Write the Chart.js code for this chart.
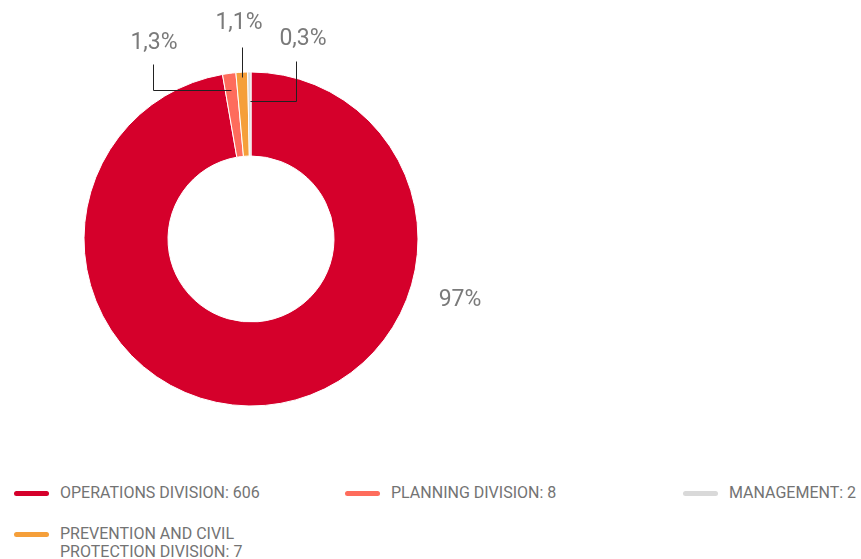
<!DOCTYPE html>
<html>
<head>
<meta charset="utf-8">
<script src="https://cdn.jsdelivr.net/npm/chart.js@4.4.1/dist/chart.umd.min.js"></script>
<style>
body{margin:0;background:#fff;width:861px;height:559px;overflow:hidden;font-family:Roboto,"Noto Sans",sans-serif}
#wrap{position:absolute;left:0;top:0;width:861px;height:480px}
#legend{position:absolute;left:0;top:484px;width:861px}
.item{position:absolute;display:flex;align-items:flex-start;color:#737373;font-size:16px;line-height:18px}
.sw{width:35px;height:5px;border-radius:3px;margin-top:7px;margin-right:11px;flex:none}
.txt{max-width:220px}
</style>
</head>
<body>
<div id="wrap"><canvas id="chart"></canvas></div>
<div id="legend"></div>
<script>

// data
let labels=["OPERATIONS DIVISION","PLANNING DIVISION","PREVENTION AND CIVIL PROTECTION DIVISION","MANAGEMENT"]
let values=[606,8,7,2]
let pctLabels=["97%","1,3%","1,1%","0,3%"]
let colors=["#d5002b","#fe6c5c","#f59f3a","#d9d9d9"]
let legendOrder=[0,1,3,2]

// legend layout (left, top)
let legendPos=[[14,0],[345,0],[683,0],[14,41]]

let html=""
legendOrder.forEach((idx,i)=>{
html+=`<div class="item" style="left:${legendPos[i][0]}px;top:${legendPos[i][1]}px">
<div class="sw" style="background:${colors[idx]}"></div>
<div class="txt">${labels[idx]}: ${values[idx]}</div>
</div>`
})
document.getElementById("legend").innerHTML=html

// label placement: r = anchor radius, path = leader points, text pos
let labelCfg=[
{fixed:[460,300]},
{r:150,path:[[153,null],[153,64]],text:[154,43]},
{r:162,path:[[null,47]],text:[239,23]},
{r:138,path:[[296,null],[296,61]],text:[303,39]}
]

const pctPlugin={
id:"pct",
afterDatasetsDraw(chart){
const ctx=chart.ctx
const meta=chart.getDatasetMeta(0)
ctx.save()
ctx.font="23px Roboto, 'Noto Sans', sans-serif"
ctx.fillStyle="#7a7a7a"
ctx.textAlign="center"
ctx.textBaseline="middle"
meta.data.forEach((arc,i)=>{
const c=labelCfg[i]
if(c.fixed){
ctx.fillText(pctLabels[i],c.fixed[0],c.fixed[1])
return
}
const mid=(arc.startAngle+arc.endAngle)/2
let x=arc.x+Math.cos(mid)*c.r
let y=arc.y+Math.sin(mid)*c.r
ctx.strokeStyle="#222"
ctx.lineWidth=1
ctx.beginPath()
ctx.moveTo(Math.round(x)+0.5,Math.round(y)+0.5)
c.path.forEach(p=>{
if(p[0]!==null)x=p[0]
if(p[1]!==null)y=p[1]
ctx.lineTo(Math.round(x)+0.5,Math.round(y)+0.5)
})
ctx.stroke()
ctx.fillText(pctLabels[i],c.text[0],c.text[1])
})
ctx.restore()
}
}

new Chart(document.getElementById("chart"),{
type:"doughnut",
data:{
labels:labels,
datasets:[{
data:values,
backgroundColor:colors,
borderColor:"#fff",
borderWidth:1,
radius:167,
cutout:"49.7%"
}]
},
options:{
responsive:true,
maintainAspectRatio:false,
animation:false,
layout:{padding:{right:359,bottom:2}},
plugins:{legend:{display:false},tooltip:{enabled:false}}
},
plugins:[pctPlugin]
})

</script>
</body>
</html>
